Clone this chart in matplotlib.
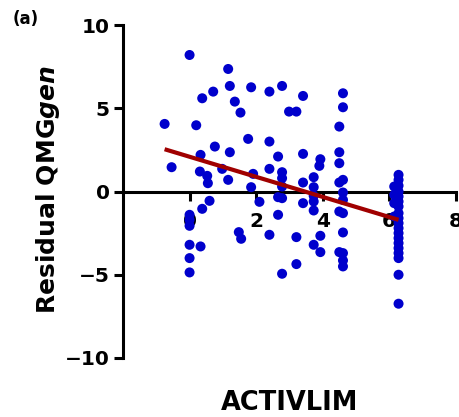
import matplotlib.pyplot as plt

plt.rcParams['font.family'] = ['DejaVu Sans']
plt.rcParams['mathtext.fontset'] = 'custom'
plt.rcParams['mathtext.bfit'] = 'DejaVu Sans:italic:bold'
plt.rcParams['mathtext.bf'] = 'DejaVu Sans:bold'

# ACTIVLIM vs residual QMGgen
activlim = [-0.75, -0.54,
            0.0, 0.0, 0.0, 0.0, 0.0, 0.0, 0.0,
            0.2, 0.33, 0.31, 0.38, 0.33, 0.38, 0.53, 0.55, 0.6,
            0.71, 0.76, 0.98, 1.16, 1.21, 1.21, 1.16, 1.36, 1.53, 1.48, 1.55,
            1.76, 1.85, 1.91, 1.85, 2.1,
            2.4, 2.4, 2.4, 2.4, 2.66, 2.66, 2.78, 2.78, 2.78, 2.78, 2.66, 2.78, 2.78,
            2.99, 3.21, 3.41, 3.41, 3.41, 3.41, 3.21, 3.21,
            3.73, 3.73, 3.73, 3.73, 3.73, 3.93, 3.9, 3.73, 3.93, 3.93,
            4.5, 4.61, 4.61, 4.5, 4.5, 4.61, 4.5, 4.61, 4.61, 4.5, 4.61, 4.61,
            4.5, 4.61, 4.61, 4.61,
            6.28, 6.28, 6.28, 6.28, 6.28, 6.28, 6.28, 6.28, 6.28, 6.28,
            6.28, 6.28, 6.28, 6.28, 6.28, 6.28, 6.28, 6.28, 6.28,
            6.15, 6.15, 6.15, 6.15]
residual = [4.06, 1.46,
            8.2, -1.4, -1.7, -2.06, -3.2, -4.0, -4.86,
            3.98, 2.2, 1.2, 5.6, -3.3, -1.04, 0.94, 0.5, -0.56,
            6.0, 2.7, 1.36, 7.36, 6.34, 2.36, 0.7, 5.4, 4.74, -2.44, -2.84,
            3.16, 6.26, 1.06, 0.26, -0.62,
            6.0, 3.0, 1.36, -2.6, -1.4, 2.1, 6.34, 1.16, 0.8, 0.3, -0.34, -0.4, -4.94,
            4.8, 4.8, 5.74, 2.26, 0.54, -0.7, -2.74, -4.36,
            0.86, 0.26, -0.26, -0.6, -1.14, 1.94, 1.54, -3.2, -2.66, -3.64,
            3.9, 5.9, 5.06, 2.36, 1.7, 0.7, 0.54, -0.06, -0.5, -1.2, -1.3, -2.46,
            -3.64, -3.7, -4.14, -4.5,
            1.0, 0.7, 0.35, 0.0, -0.3, -0.6, -0.9, -1.3, -1.6, -1.9,
            -2.2, -2.5, -2.8, -3.1, -3.4, -3.7, -4.0, -5.0, -6.74,
            0.3, -0.2, -0.7, -1.5]

fit_x = [-0.75, 6.28]
fit_y = [2.54, -1.70]

fig = plt.figure(figsize=(4.59, 4.17), dpi=100)
ax = fig.add_axes([0.268, 0.1415, 0.725, 0.7985])

ax.scatter(activlim, residual, s=52, color='#0000CC', edgecolors='none', zorder=3)
ax.plot(fit_x, fit_y, color='#A00000', linewidth=3, zorder=4, solid_capstyle='butt')

ax.set_xlim(-2, 8)
ax.set_ylim(-10, 10)
ax.spines['top'].set_visible(False)
ax.spines['right'].set_visible(False)
ax.spines['left'].set_position(('data', -2))
ax.spines['bottom'].set_position(('data', 0))
for sp in ['left', 'bottom']:
    ax.spines[sp].set_linewidth(2.2)

ax.set_xticks([0, 2, 4, 6, 8])
ax.set_yticks([-10, -5, 0, 5, 10])
ax.set_yticklabels(['\u221210', '\u22125', '0', '5', '10'])
ax.tick_params(axis='both', width=2.2, length=6.5, labelsize=14.5)
ax.tick_params(axis='x', pad=8)
ax.tick_params(axis='y', pad=3)
for lab in ax.get_xticklabels() + ax.get_yticklabels():
    lab.set_fontweight('bold')

ax.set_ylabel(r'$\mathbf{Residual\ QMG}\mathbfit{gen}$', fontsize=18)
ax.yaxis.set_label_coords(-0.183, 0.505)
ax.set_xlabel('ACTIVLIM', fontsize=18.5, fontweight='bold')
ax.xaxis.set_label_coords(0.5, -0.095)

fig.text(0.028, 0.955, '(a)', fontsize=12, fontweight='bold', va='center')

fig.savefig('out.png', dpi=100)
